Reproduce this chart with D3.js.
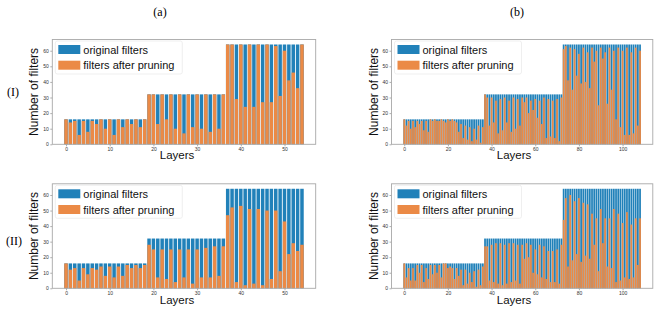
<!DOCTYPE html>
<html>
<head>
<meta charset="utf-8">
<script src="https://cdn.jsdelivr.net/npm/d3@7/dist/d3.min.js"></script>
<style>
  html, body { margin: 0; padding: 0; background: #fff; }
  svg { display: block; }
</style>
</head>
<body>
<svg id="chart" width="662" height="314"></svg>
<script>
// ---------------- DATA ----------------
const columnLabels = ["(a)", "(b)"];
const rowLabels = ["(I)", "(II)"];
const seriesNames = ["original filters", "filters after pruning"];
const yTickValues = [0, 10, 20, 30, 40, 50, 60];
const xTicksA = [0, 10, 20, 30, 40, 50];
const xTicksB = [0, 20, 40, 60, 80, 100];

// ResNet-56: 55 conv layers
const originalA = [
  16,16,16,16,16,16,16,16,16,16,16,16,16,16,16,16,16,16,16,
  32,32,32,32,32,32,32,32,32,32,32,32,32,32,32,32,32,32,
  64,64,64,64,64,64,64,64,64,64,64,64,64,64,64,64,64,64
];
const prunedA1 = [
  16,14,15,6,15,8,15,13,16,10,16,6,16,11,16,13,16,11,16,
  32,32,13,32,16,32,10,32,7,32,11,32,10,32,8,32,10,32,
  64,64,29,64,24,64,24,64,27,64,27,63,31,60,41,46,36,64
];
const prunedA2 = [
  16,12,13,5,13,9,13,12,14,8,14,7,14,8,15,13,15,13,15,
  28,25,7,25,6,25,4,25,7,25,3,25,7,26,7,27,8,27,
  47,52,4,53,2,51,3,51,2,50,6,50,11,43,22,29,24,28
];

// ResNet-110: 109 conv layers
const originalB = [
  16,16,16,16,16,16,16,16,16,16,16,16,16,16,16,16,16,16,16,16,16,16,16,16,16,16,16,16,16,16,16,16,16,16,16,16,16,
  32,32,32,32,32,32,32,32,32,32,32,32,32,32,32,32,32,32,32,32,32,32,32,32,32,32,32,32,32,32,32,32,32,32,32,32,
  64,64,64,64,64,64,64,64,64,64,64,64,64,64,64,64,64,64,64,64,64,64,64,64,64,64,64,64,64,64,64,64,64,64,64,64
];
const prunedB1 = [
  16,12,15,10,15,11,15,13,15,9,15,8,16,15,16,15,15,16,15,14,16,15,16,15,14,8,13,4,12,3,11,2,10,3,12,1,11,
  32,30,12,30,14,28,7,29,9,30,14,28,8,30,10,29,12,30,27,30,20,28,22,29,17,28,13,30,4,29,5,28,4,29,2,30,
  61,63,41,62,35,61,44,58,39,62,40,59,36,62,53,60,25,62,55,59,26,62,35,60,16,62,11,60,6,62,6,59,7,62,12,60
];
const prunedB2 = [
  16,7,13,5,13,5,15,10,15,4,13,6,15,9,15,10,15,7,16,16,13,14,13,6,13,8,12,2,12,3,10,4,11,1,12,2,14,
  27,27,5,28,4,29,3,29,2,28,3,29,4,29,5,28,3,28,19,29,20,28,10,25,9,28,7,27,6,24,4,24,4,25,3,28,
  44,58,14,60,18,56,22,58,17,55,21,54,19,48,28,45,11,51,29,45,14,45,13,51,4,48,5,42,7,49,6,41,7,45,15,45
];

// ---------------- STYLE / LAYOUT ----------------
const BLUE = "#2181b9";
const ORANGE = "#eb8a46";
const SANS = "'Liberation Sans', Arial, 'DejaVu Sans', sans-serif";
const SERIF = "'Liberation Serif', 'Times New Roman', serif";

const colA = { left: 52.3, right: 315.7, labelX: 34, xlabelX: 177, ticks: xTicksA };
const colB = { left: 391.5, right: 652.8, labelX: 374, xlabelX: 514, ticks: xTicksB };
const row1 = { top: 39.5, bottom: 144.3, xlabelY: 159 };
const row2 = { top: 183.8, bottom: 288.3, xlabelY: 303.8 };

const panels = [
  { col: colA, row: row1, orig: originalA, pruned: prunedA1 },
  { col: colB, row: row1, orig: originalB, pruned: prunedB1 },
  { col: colA, row: row2, orig: originalA, pruned: prunedA2 },
  { col: colB, row: row2, orig: originalB, pruned: prunedB2 }
];

const svg = d3.select("#chart");
svg.append("rect").attr("width", 662).attr("height", 314).attr("fill", "#fff");

// column & row labels
svg.append("text").attr("x", 160).attr("y", 16).attr("text-anchor", "middle")
  .attr("font-family", SERIF).attr("font-size", 12).text(columnLabels[0]);
svg.append("text").attr("x", 517).attr("y", 16).attr("text-anchor", "middle")
  .attr("font-family", SERIF).attr("font-size", 12).text(columnLabels[1]);
svg.append("text").attr("x", 13).attr("y", 96).attr("text-anchor", "middle")
  .attr("font-family", SERIF).attr("font-size", 12).text(rowLabels[0]);
svg.append("text").attr("x", 14).attr("y", 245).attr("text-anchor", "middle")
  .attr("font-family", SERIF).attr("font-size", 12).text(rowLabels[1]);

panels.forEach(p => {
  const n = p.orig.length;
  const span = (n - 1) + 0.8;
  const pad = 0.05 * span;
  const x = d3.scaleLinear()
    .domain([-0.4 - pad, n - 1 + 0.4 + pad])
    .range([p.col.left, p.col.right]);
  const y = d3.scaleLinear()
    .domain([0, 64 * 1.05])
    .range([p.row.bottom, p.row.top]);

  const g = svg.append("g");
  const idx = d3.range(n);

  // original filters (blue)
  g.append("g").selectAll("rect").data(idx).join("rect")
    .attr("x", i => x(i - 0.4))
    .attr("width", x(0.8) - x(0))
    .attr("y", i => y(p.orig[i]))
    .attr("height", i => y(0) - y(p.orig[i]))
    .attr("fill", BLUE);

  // pruned filters (orange)
  g.append("g").selectAll("rect").data(idx).join("rect")
    .attr("x", i => x(i - 0.4))
    .attr("width", x(0.8) - x(0))
    .attr("y", i => y(p.pruned[i]))
    .attr("height", i => y(0) - y(p.pruned[i]))
    .attr("fill", ORANGE);

  // axes
  const yAxis = d3.axisLeft(y).tickValues(yTickValues).tickSize(2).tickPadding(1.5);
  const xAxis = d3.axisBottom(x).tickValues(p.col.ticks).tickSize(2).tickPadding(1);
  const ya = g.append("g").attr("transform", `translate(${p.col.left},0)`).call(yAxis);
  const xa = g.append("g").attr("transform", `translate(0,${p.row.bottom})`).call(xAxis);
  [ya, xa].forEach(a => {
    a.select(".domain").remove();
    a.selectAll("line").attr("stroke", "#777").attr("stroke-width", 0.6);
    a.selectAll("text").attr("font-family", SANS).attr("font-size", 5).attr("fill", "#333");
  });

  // frame
  g.append("rect")
    .attr("x", p.col.left).attr("y", p.row.top)
    .attr("width", p.col.right - p.col.left)
    .attr("height", p.row.bottom - p.row.top)
    .attr("fill", "none").attr("stroke", "#a8a8a8").attr("stroke-width", 0.9);

  // axis labels
  g.append("text")
    .attr("x", p.col.xlabelX).attr("y", p.row.xlabelY)
    .attr("text-anchor", "middle")
    .attr("font-family", SANS).attr("font-size", 11.5).attr("fill", "#111")
    .text("Layers");
  const cy = (p.row.top + p.row.bottom) / 2;
  g.append("text")
    .attr("transform", `translate(${p.col.labelX},${cy}) rotate(-90)`)
    .attr("text-anchor", "middle").attr("dominant-baseline", "central")
    .attr("font-family", SANS).attr("font-size", 12).attr("fill", "#111")
    .text("Number of filters");

  // legend
  const lg = g.append("g");
  lg.append("rect")
    .attr("x", p.col.left + 3).attr("y", p.row.top + 1.5)
    .attr("width", 127).attr("height", 33).attr("rx", 2)
    .attr("fill", "#fff").attr("fill-opacity", 0.8)
    .attr("stroke", "#ebebeb").attr("stroke-width", 0.8);
  [BLUE, ORANGE].forEach((c, k) => {
    const py = p.row.top + 5.5 + k * 15.7;
    lg.append("rect")
      .attr("x", p.col.left + 6).attr("y", py)
      .attr("width", 22).attr("height", 9)
      .attr("fill", c);
    lg.append("text")
      .attr("x", p.col.left + 31).attr("y", py + 4.5)
      .attr("dominant-baseline", "central")
      .attr("font-family", SANS).attr("font-size", 11).attr("fill", "#111")
      .text(seriesNames[k]);
  });
});
</script>
</body>
</html>
